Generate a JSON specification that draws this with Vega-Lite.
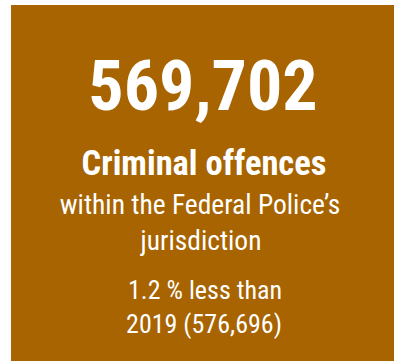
{
  "$schema": "https://vega.github.io/schema/vega-lite/v6.json",
  "width": 394,
  "height": 361,
  "padding": 0,
  "autosize": {"type": "fit", "contains": "padding"},
  "background": "white",
  "config": {"view": {"stroke": null}},
  "datasets": {
    "box": [{"x": 11, "x2": 394, "y": 5, "y2": 361}],
    "bold": [
      {"label": "569,702", "x": 203, "y": 110, "size": 70},
      {"label": "Criminal offences", "x": 204, "y": 175, "size": 34.5}
    ],
    "regular": [
      {"label": "within the Federal Police’s", "x": 200, "y": 214, "size": 27.5},
      {"label": "jurisdiction", "x": 201, "y": 250, "size": 27.5},
      {"label": "1.2 % less than", "x": 205, "y": 299, "size": 26},
      {"label": "2019 (576,696)", "x": 204, "y": 333, "size": 26}
    ]
  },
  "layer": [
    {
      "data": {"name": "box"},
      "mark": {"type": "rect", "color": "#A86400"},
      "encoding": {
        "x": {"field": "x", "type": "quantitative", "scale": {"domain": [0, 394], "nice": false, "zero": false}, "axis": null},
        "x2": {"field": "x2"},
        "y": {"field": "y", "type": "quantitative", "scale": {"domain": [0, 361], "nice": false, "zero": false, "reverse": true}, "axis": null},
        "y2": {"field": "y2"}
      }
    },
    {
      "data": {"name": "bold"},
      "mark": {"type": "text", "align": "center", "baseline": "alphabetic", "color": "white", "font": "Roboto Condensed", "fontWeight": "bold"},
      "encoding": {
        "x": {"field": "x", "type": "quantitative"},
        "y": {"field": "y", "type": "quantitative"},
        "text": {"field": "label"},
        "size": {"field": "size", "type": "quantitative", "scale": null}
      }
    },
    {
      "data": {"name": "regular"},
      "mark": {"type": "text", "align": "center", "baseline": "alphabetic", "color": "white", "font": "Roboto Condensed", "fontWeight": "normal"},
      "encoding": {
        "x": {"field": "x", "type": "quantitative"},
        "y": {"field": "y", "type": "quantitative"},
        "text": {"field": "label"},
        "size": {"field": "size", "type": "quantitative", "scale": null}
      }
    }
  ]
}
